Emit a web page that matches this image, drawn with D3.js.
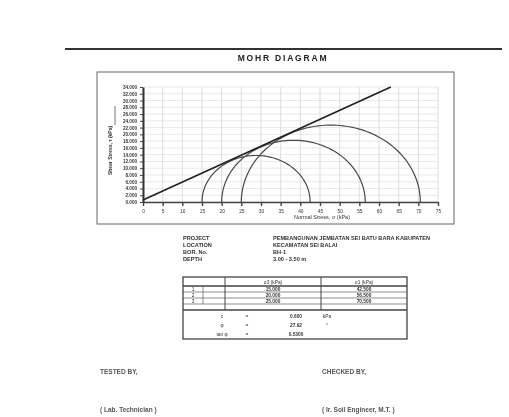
<!DOCTYPE html>
<html>
<head>
<meta charset="utf-8">
<script src="https://cdn.jsdelivr.net/npm/d3@7"></script>
<style>
  body { margin: 0; background: #fff; }
  svg { display: block; font-family: "Liberation Sans", Arial, sans-serif; filter: blur(0.45px); }
</style>
</head>
<body>
<svg width="509" height="417"></svg>
<script>
// test data
var sigma3 = [15, 20, 25];
var sigma1 = [42.5, 56.5, 70.5];
var cohesion = 0.6;
var tanPhi = 0.53;
var xTicks = d3.range(0, 80, 5);
var yTicks = d3.range(0, 36, 2);
var infoLabels = ["PROJECT", "LOCATION", "BOR. No.", "DEPTH"];
var infoValues = ["PEMBANGUNAN JEMBATAN SEI BATU BARA KABUPATEN", "KECAMATAN SEI BALAI", "BH-1", "3.00 - 3.50 m"];

var svg = d3.select("svg"),
  margin = { top: 87, right: 71, bottom: 215, left: 143 },
  width = +svg.attr("width") - margin.left - margin.right,
  height = +svg.attr("height") - margin.top - margin.bottom;

// header rule and title
svg.append("line")
  .attr("x1", 65).attr("x2", 502).attr("y1", 49).attr("y2", 49)
  .attr("stroke", "#333").attr("stroke-width", 2);

svg.append("text")
  .attr("x", 283).attr("y", 61)
  .attr("text-anchor", "middle")
  .attr("font-size", 8.5).attr("font-weight", "bold")
  .attr("letter-spacing", 1.8)
  .attr("fill", "#222")
  .text("MOHR DIAGRAM");

// chart frame
svg.append("rect")
  .attr("x", 97).attr("y", 72).attr("width", 357).attr("height", 152)
  .attr("fill", "none").attr("stroke", "#666").attr("stroke-width", 1);

var x = d3.scaleLinear().domain([0, 75]).range([0, width]);
var y = d3.scaleLinear().domain([0, 34]).range([height, 0]);

var g = svg.append("g")
  .attr("transform", "translate(" + margin.left + "," + margin.top + ")");

// grid
g.append("g").selectAll("line")
  .data(xTicks)
  .enter().append("line")
  .attr("x1", function(d) { return x(d); })
  .attr("x2", function(d) { return x(d); })
  .attr("y1", 0).attr("y2", height)
  .attr("stroke", "#c8c8c8").attr("stroke-width", 0.6);

g.append("g").selectAll("line")
  .data(yTicks)
  .enter().append("line")
  .attr("x1", 0).attr("x2", width)
  .attr("y1", function(d) { return y(d); })
  .attr("y2", function(d) { return y(d); })
  .attr("stroke", "#dadada").attr("stroke-width", 0.6);

// axes
var xAxis = g.append("g")
  .attr("transform", "translate(0," + height + ")")
  .call(d3.axisBottom(x).tickValues(xTicks).tickSize(4).tickSizeOuter(0));
xAxis.selectAll("text").attr("font-size", 4.8).attr("fill", "#333").attr("dy", "0.9em");
xAxis.selectAll("line,path").attr("stroke", "#444").attr("stroke-width", 1.4);

var yAxis = g.append("g")
  .call(d3.axisLeft(y).tickValues(yTicks).tickSize(3).tickSizeOuter(0).tickFormat(d3.format(".3f")));
yAxis.selectAll("text").attr("font-size", 4.6).attr("fill", "#333").attr("font-weight", "bold");
yAxis.selectAll("line").attr("stroke", "#444");
yAxis.select("path").attr("stroke", "#333").attr("stroke-width", 2);

// axis titles
svg.append("text")
  .attr("transform", "translate(112," + (margin.top + height / 2 + 6) + ") rotate(-90)")
  .attr("text-anchor", "middle")
  .attr("font-size", 5).attr("font-weight", "bold").attr("fill", "#333")
  .text("Shear Stress, τ (kPa)");

svg.append("line")
  .attr("x1", 115).attr("x2", 115).attr("y1", 106).attr("y2", 125)
  .attr("stroke", "#555").attr("stroke-width", 0.8);

svg.append("text")
  .attr("x", 322).attr("y", 219)
  .attr("text-anchor", "middle")
  .attr("font-size", 5.5).attr("fill", "#333")
  .text("Normal Stress, σ (kPa)");

// mohr circles
var arc = d3.line()
  .x(function(p) { return x(p[0]); })
  .y(function(p) { return y(p[1]); });

sigma3.forEach(function(s3, i) {
  var c = (s3 + sigma1[i]) / 2, r = (sigma1[i] - s3) / 2;
  var pts = d3.range(0, 181, 2).map(function(a) {
    var t = a * Math.PI / 180;
    return [c + r * Math.cos(t), r * Math.sin(t)];
  });
  g.append("path")
    .attr("d", arc(pts))
    .attr("fill", "none")
    .attr("stroke", "#4a4a4a")
    .attr("stroke-width", 1.2);
});

// failure envelope
g.append("path")
  .attr("d", arc([[0, cohesion], [63, cohesion + tanPhi * 63]]))
  .attr("fill", "none")
  .attr("stroke", "#222")
  .attr("stroke-width", 1.7);

// project info
infoLabels.forEach(function(l, i) {
  svg.append("text")
    .attr("x", 183).attr("y", 239.5 + i * 7.3)
    .attr("font-size", 5.6).attr("font-weight", "bold").attr("fill", "#333")
    .text(l);
  svg.append("text")
    .attr("x", 273).attr("y", 239.5 + i * 7.3)
    .attr("font-size", 5.6).attr("font-weight", "bold").attr("fill", "#333")
    .text(infoValues[i]);
});

// results table
var t = svg.append("g").attr("stroke", "#444").attr("fill", "none");
t.append("rect").attr("x", 183).attr("y", 277).attr("width", 224).attr("height", 62).attr("stroke-width", 1.3);
[286, 292, 298, 304, 310].forEach(function(yy) {
  t.append("line").attr("x1", 183).attr("x2", 407).attr("y1", yy).attr("y2", yy).attr("stroke-width", yy == 286 || yy == 310 ? 1.3 : 0.6);
});
t.append("line").attr("x1", 225).attr("x2", 225).attr("y1", 277).attr("y2", 310);
t.append("line").attr("x1", 321).attr("x2", 321).attr("y1", 277).attr("y2", 310);
t.append("line").attr("x1", 203).attr("x2", 203).attr("y1", 286).attr("y2", 304).attr("stroke-width", 0.6);

var tt = svg.append("g").attr("font-size", 4.8).attr("fill", "#333").attr("text-anchor", "middle");
tt.append("text").attr("x", 273).attr("y", 284).text("σ3 (kPa)");
tt.append("text").attr("x", 364).attr("y", 284).text("σ1 (kPa)");
sigma3.forEach(function(s3, i) {
  tt.append("text").attr("x", 193).attr("y", 291 + i * 6).text(i + 1);
  tt.append("text").attr("x", 273).attr("y", 291 + i * 6).attr("font-weight", "bold").text(d3.format(".3f")(s3));
  tt.append("text").attr("x", 364).attr("y", 291 + i * 6).attr("font-weight", "bold").text(d3.format(".3f")(sigma1[i]));
});

var res = [
  ["c", "=", d3.format(".3f")(cohesion), "kPa"],
  ["φ", "=", d3.format(".2f")(Math.atan(tanPhi) * 180 / Math.PI), "°"],
  ["tan φ", "=", d3.format(".4f")(tanPhi), ""]
];
res.forEach(function(r, i) {
  var yy = 318 + i * 9;
  tt.append("text").attr("x", 222).attr("y", yy).text(r[0]);
  tt.append("text").attr("x", 247).attr("y", yy).text(r[1]);
  tt.append("text").attr("x", 296).attr("y", yy).attr("font-weight", "bold").text(r[2]);
  tt.append("text").attr("x", 327).attr("y", yy).text(r[3]);
});

// signatures
var foot = [
  [100, 374, "TESTED BY,"],
  [322, 374, "CHECKED BY,"],
  [100, 412, "( Lab. Technician )"],
  [322, 412, "( Ir. Soil Engineer, M.T. )"]
];
foot.forEach(function(f) {
  svg.append("text")
    .attr("x", f[0]).attr("y", f[1])
    .attr("font-size", 6.5).attr("font-weight", "bold").attr("fill", "#555")
    .text(f[2]);
});
</script>
</body>
</html>
